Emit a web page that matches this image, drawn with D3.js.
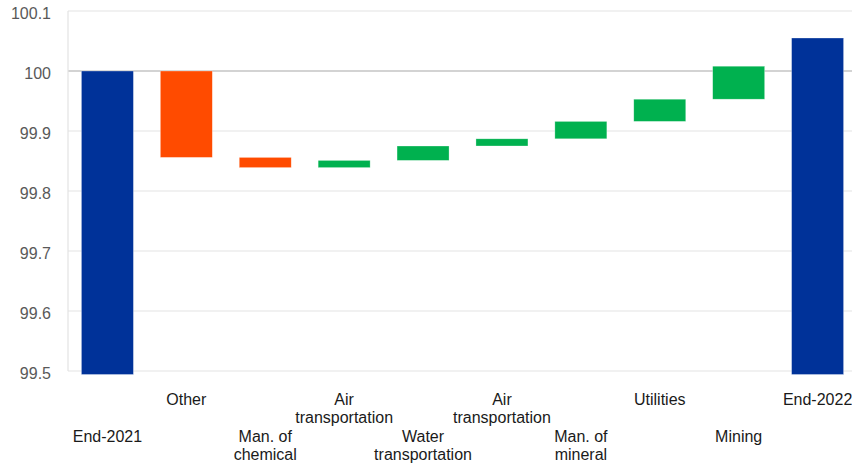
<!DOCTYPE html>
<html>
<head>
<meta charset="utf-8">
<script src="https://cdn.jsdelivr.net/npm/d3@7"></script>
<style>
  body { margin: 0; background: #fff; }
  svg { display: block; font-family: "Liberation Sans", Arial, sans-serif; }
</style>
</head>
<body>
<svg id="chart"></svg>
<script>
// categories, two label lines each (they are staggered on two rows)
const labels = [
  ["End-2021"],
  ["Other"],
  ["Man. of", "chemical"],
  ["Air", "transportation"],
  ["Water", "transportation"],
  ["Air", "transportation"],
  ["Man. of", "mineral"],
  ["Utilities"],
  ["Mining"],
  ["End-2022"]
];
const startValue = 100;
const endValue = 100.055;
// contributions of the sectors in between
const deltas = [-0.144, -0.017, 0.012, 0.024, 0.012, 0.029, 0.037, 0.055];
const yTicks = [99.5, 99.6, 99.7, 99.8, 99.9, 100, 100.1];

const width = 852, height = 464;
const plotLeft = 68, plotTop = 11, plotBottom = 371;

const svg = d3.select("#chart").attr("width", width).attr("height", height);

// build the floating bars
const bars = [];
bars.push({ i: 0, y0: startValue, y1: null, kind: "total" });
let run = startValue;
deltas.forEach((d, k) => {
  bars.push({ i: k + 1, y0: run, y1: run + d, kind: d < 0 ? "neg" : "pos" });
  run += d;
});
bars.push({ i: deltas.length + 1, y0: endValue, y1: null, kind: "total" });

const x = d3.scaleBand()
  .domain(d3.range(labels.length))
  .range([plotLeft, 857])
  .paddingInner(0.341)
  .paddingOuter(0.17);

const y = d3.scaleLinear().domain([99.5, 100.1]).range([plotBottom, plotTop]);

const colors = { total: "#003299", neg: "#ff4b00", pos: "#00b14f" };

// gridlines
svg.append("g")
  .selectAll("line")
  .data(yTicks)
  .join("line")
  .attr("x1", plotLeft).attr("x2", width)
  .attr("y1", d => y(d)).attr("y2", d => y(d))
  .attr("stroke", d => d === 100 ? "#c4c4c4" : "#e3e3e3")
  .attr("stroke-width", d => d === 100 ? 1.5 : 1.2);

svg.append("line")
  .attr("x1", plotLeft).attr("x2", plotLeft)
  .attr("y1", plotTop).attr("y2", plotBottom)
  .attr("stroke", "#e3e3e3").attr("stroke-width", 1.2);

// y labels
svg.append("g")
  .selectAll("text")
  .data(yTicks)
  .join("text")
  .attr("x", 51)
  .attr("y", d => y(d) + 8)
  .attr("text-anchor", "end")
  .attr("font-size", 16)
  .attr("fill", "#595959")
  .text(d => d3.format("")(d));

// bars
svg.append("g")
  .selectAll("rect")
  .data(bars)
  .join("rect")
  .attr("x", d => x(d.i))
  .attr("width", x.bandwidth())
  .attr("y", d => d.y1 === null ? y(d.y0) : y(Math.max(d.y0, d.y1)))
  .attr("height", d => d.y1 === null
    ? plotBottom + 3.5 - y(d.y0)
    : Math.abs(y(d.y0) - y(d.y1)))
  .attr("fill", d => colors[d.kind])
  .attr("stroke", "#ffffff")
  .attr("stroke-opacity", 0.5)
  .attr("stroke-width", 0.6);

// category labels, alternating rows
const lab = svg.append("g")
  .selectAll("text")
  .data(labels)
  .join("text")
  .attr("text-anchor", "middle")
  .attr("font-size", 16)
  .attr("fill", "#1a1a1a")
  .attr("transform", (d, i) => `translate(${x(i) + x.bandwidth() / 2},${i % 2 ? 405 : 442})`);

lab.selectAll("tspan")
  .data(d => d)
  .join("tspan")
  .attr("x", 0)
  .attr("dy", (d, k) => k ? 18 : 0)
  .text(d => d);
</script>
</body>
</html>
